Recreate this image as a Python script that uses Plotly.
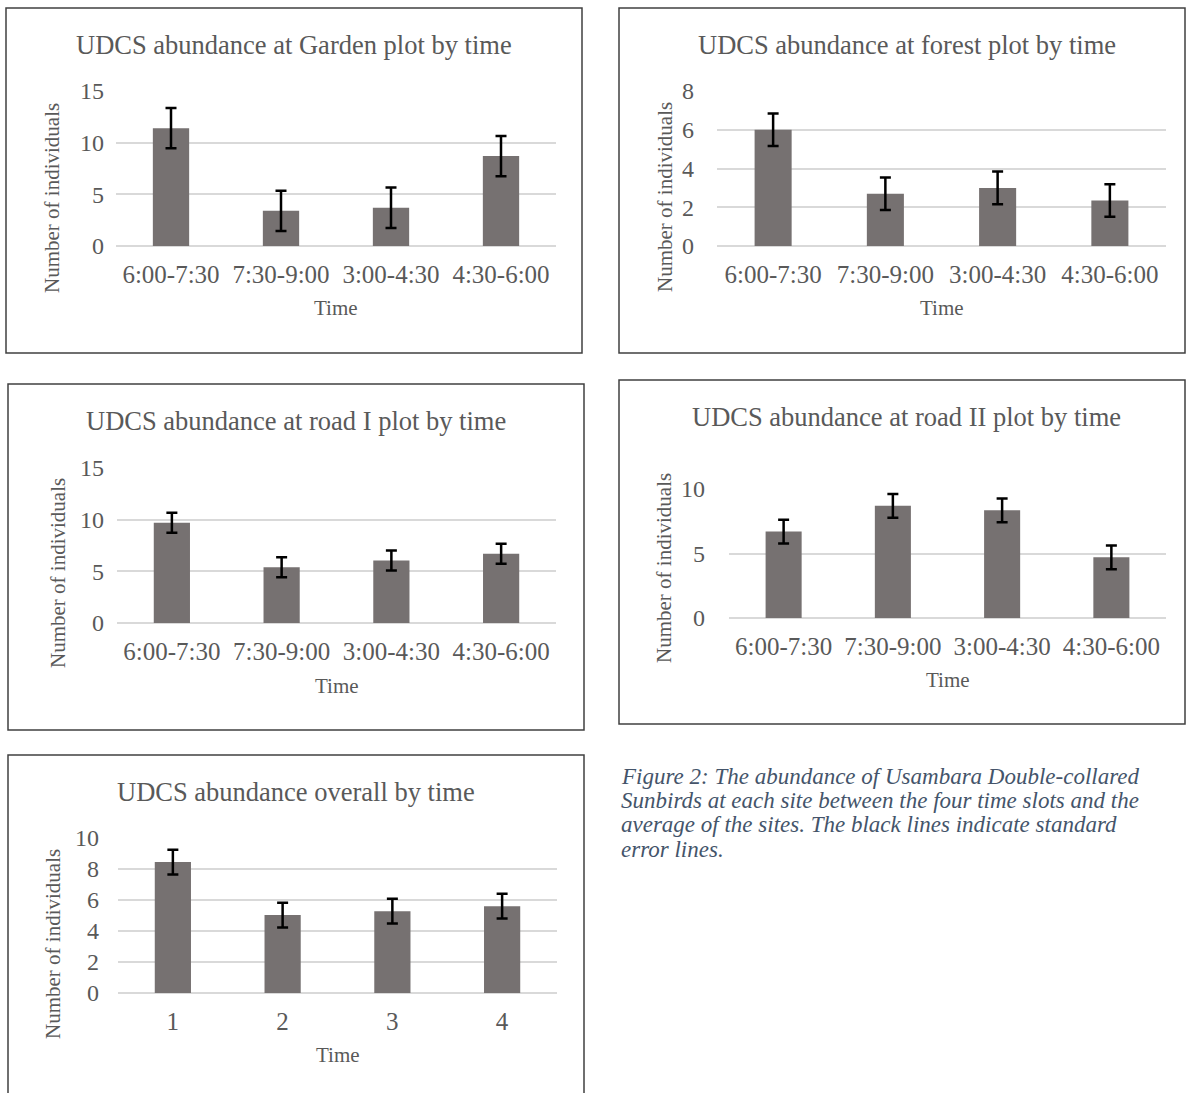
import plotly.graph_objects as go

W, H = 1186, 1093

# ---------------- data ----------------
time_slots = ["6:00-7:30", "7:30-9:00", "3:00-4:30", "4:30-6:00"]
overall_slots = ["1", "2", "3", "4"]

garden_mean = [11.4, 3.4, 3.7, 8.7]
garden_se = 1.95

forest_mean = [6.0, 2.7, 3.0, 2.35]
forest_se = 0.84

road1_mean = [9.7, 5.4, 6.05, 6.7]
road1_se = 0.97

road2_mean = [6.7, 8.7, 8.35, 4.7]
road2_se = 0.92

overall_mean = [8.45, 5.03, 5.28, 5.6]
overall_se = 0.8

titles = [
    "UDCS abundance at Garden plot by time",
    "UDCS abundance at forest plot by time",
    "UDCS abundance at road I plot by time",
    "UDCS abundance at road II plot by time",
    "UDCS abundance overall by time",
]

caption_lines = [
    "Figure 2: The abundance of Usambara Double-collared",
    "Sunbirds at each site between the four time slots and the",
    "average of the sites. The black lines indicate standard",
    "error lines.",
]

# ---------------- layout (pixels) ----------------
panels = [
    dict(y=garden_mean, cats=time_slots, se=garden_se, ymax=15, dtick=5,
         box=(116, 556, 91, 246), border=(6, 8, 582, 353), title=(294, 45),
         ytx=52, yty=198, ystand=11, xty=308),
    dict(y=forest_mean, cats=time_slots, se=forest_se, ymax=8, dtick=2,
         box=(717, 1166, 91, 246), border=(619, 8, 1185, 353), title=(907, 45),
         ytx=665, yty=197, ystand=22, xty=308),
    dict(y=road1_mean, cats=time_slots, se=road1_se, ymax=15, dtick=5,
         box=(117, 556, 468, 623), border=(8, 384, 584, 730), title=(296, 421),
         ytx=58, yty=573, ystand=12, xty=686),
    dict(y=road2_mean, cats=time_slots, se=road2_se, ymax=10, dtick=5,
         box=(729, 1166, 489, 618), border=(619, 380, 1185, 724), title=(906, 417),
         ytx=664, yty=568, ystand=23, xty=680),
    dict(y=overall_mean, cats=overall_slots, se=overall_se, ymax=10, dtick=2,
         box=(118, 557, 838, 993), border=(8, 755, 584, 1110), title=(296, 792),
         ytx=53, yty=944, ystand=18, xty=1055),
]

FONT = "Liberation Serif, Times New Roman, serif"
TXT = "#595959"
BAR = "#767171"
GRID = "#D9D9D9"


def px(x):
    return x / W


def py(y):
    return 1 - y / H


fig = go.Figure()
shapes = []
annotations = []

for i, p in enumerate(panels, start=1):
    xa = "x" if i == 1 else f"x{i}"
    ya = "y" if i == 1 else f"y{i}"
    fig.add_trace(go.Bar(
        x=p["cats"], y=p["y"], xaxis=xa, yaxis=ya,
        marker=dict(color=BAR, line=dict(width=0)),
        width=0.33,
        error_y=dict(type="constant", value=p["se"], color="black",
                     thickness=2.5, width=5.5),
        showlegend=False,
    ))
    x0, x1, yt, yb = p["box"]
    xkey = "xaxis" if i == 1 else f"xaxis{i}"
    ykey = "yaxis" if i == 1 else f"yaxis{i}"
    fig.layout[xkey] = dict(
        domain=[px(x0), px(x1)], anchor=ya, showgrid=False, zeroline=False,
        showline=False, ticks="", automargin=False,
        tickfont=dict(family=FONT, size=25, color=TXT),
        ticklabelstandoff=11, fixedrange=True,
    )
    fig.layout[ykey] = dict(
        domain=[py(yb), py(yt)], anchor=xa, range=[0, p["ymax"]], dtick=p["dtick"],
        showgrid=True, gridcolor=GRID, gridwidth=1.5, zeroline=True,
        zerolinecolor=GRID, zerolinewidth=1.5, showline=False, ticks="",
        automargin=False, tickfont=dict(family=FONT, size=24, color=TXT),
        ticklabelstandoff=p["ystand"], fixedrange=True,
    )
    bx0, by0, bx1, by1 = p["border"]
    shapes.append(dict(type="rect", xref="paper", yref="paper",
                       x0=px(bx0), x1=px(bx1), y0=py(by1), y1=py(by0),
                       line=dict(color="#404040", width=1.5), fillcolor="rgba(0,0,0,0)"))
    tx, ty = p["title"]
    annotations.append(dict(text=titles[i - 1], xref="paper", yref="paper",
                            x=px(tx), y=py(ty), xanchor="center", yanchor="middle",
                            showarrow=False, font=dict(family=FONT, size=26.5, color=TXT)))
    annotations.append(dict(text="Number of individuals", xref="paper", yref="paper",
                            x=px(p["ytx"]), y=py(p["yty"]), xanchor="center",
                            yanchor="middle", textangle=-90, showarrow=False,
                            font=dict(family=FONT, size=21, color=TXT)))
    annotations.append(dict(text="Time", xref="paper", yref="paper",
                            x=px((x0 + x1) / 2), y=py(p["xty"]), xanchor="center",
                            yanchor="middle", showarrow=False,
                            font=dict(family=FONT, size=21, color=TXT)))

for k, line in enumerate(caption_lines):
    annotations.append(dict(text=f"<i>{line}</i>", xref="paper", yref="paper",
                            x=px(619), y=py(776 + 24.4 * k), xanchor="left", yanchor="middle",
                            showarrow=False, font=dict(family=FONT, size=23, color="#44546A")))

fig.update_layout(
    width=W, height=H,
    margin=dict(l=0, r=0, t=0, b=0, pad=0, autoexpand=False),
    paper_bgcolor="white", plot_bgcolor="white",
    shapes=shapes, annotations=annotations, bargap=0.67, showlegend=False,
)

post = (
    "document.body.style.margin='0';"
    "document.body.style.overflow='hidden';"
    "var d=document.getElementById('{plot_id}');"
    "d.style.position='absolute';d.style.left='0px';d.style.top='0px';"
)

fig.write_html("out.html", config=dict(displayModeBar=False), post_script=post)
